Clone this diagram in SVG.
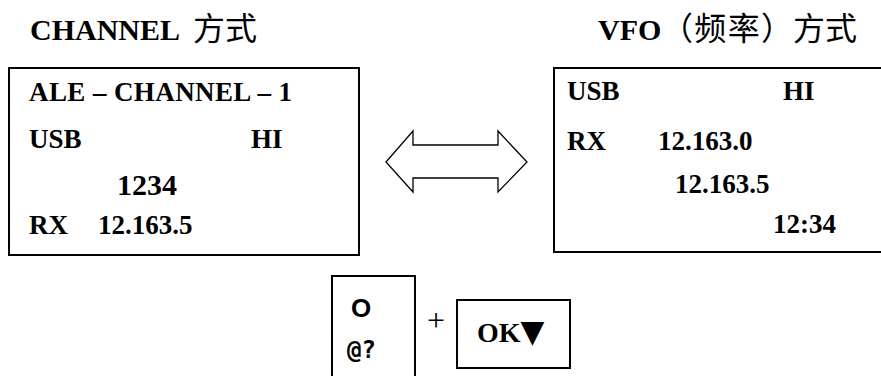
<svg xmlns="http://www.w3.org/2000/svg" width="881" height="376" viewBox="0 0 881 376">
<style>
.t{font-family:"Liberation Serif","Noto Sans CJK SC",serif;font-weight:bold;fill:#000}
.cjk{font-family:"Noto Sans CJK SC",sans-serif;font-weight:normal;font-size:32px}
.box{fill:#fff;stroke:#000;stroke-width:2}
.b{font-size:27px}
</style>
<rect width="881" height="376" fill="#fff"/>
<g id="title-channel"><text class="t" x="30" y="40" font-size="30">CHANNEL<tspan class="cjk" x="193" font-size="33">方式</tspan></text></g>
<g id="title-vfo"><text class="t" x="598" y="40" font-size="30">VFO<tspan class="cjk" x="661" textLength="132" lengthAdjust="spacing">（频率）</tspan><tspan class="cjk" x="793">方式</tspan></text></g>
<g id="channel-screen">
<rect class="box" x="9" y="68" width="350" height="187"/>
<text class="t b" x="29" y="101" textLength="263" lengthAdjust="spacing">ALE – CHANNEL – 1</text>
<text class="t b" x="29" y="148">USB</text>
<text class="t b" x="251" y="148">HI</text>
<text class="t" x="117" y="195" font-size="30">1234</text>
<text class="t b" x="29" y="234">RX</text>
<text class="t b" x="98" y="234">12.163.5</text>
</g>
<g id="connectors">
<polygon points="386,162 413,131 413,145 498,145 498,131 527,162 498,192 498,178 413,178 413,192" fill="#fff" stroke="#000" stroke-width="1.3"/>
</g>
<g id="vfo-screen">
<rect class="box" x="554" y="68" width="340" height="184"/>
<text class="t b" x="567" y="100">USB</text>
<text class="t b" x="783" y="100">HI</text>
<text class="t b" x="567" y="150">RX</text>
<text class="t b" x="658" y="150">12.163.0</text>
<text class="t b" x="675" y="193">12.163.5</text>
<text class="t b" x="773" y="233">12:34</text>
</g>
<g id="key-o">
<rect class="box" x="332" y="276" width="83" height="110"/>
<text x="351" y="317" font-family="Liberation Sans,sans-serif" font-weight="bold" font-size="26">O</text>
<text x="347" y="358" font-family="DejaVu Sans Mono,monospace" font-weight="bold" font-size="24">@?</text>
</g>
<g id="plus"><text x="427" y="331" font-family="Liberation Serif,serif" font-size="32">+</text></g>
<g id="key-ok">
<rect class="box" x="457" y="300" width="113" height="68"/>
<text class="t" x="477" y="342" font-size="28">OK<tspan font-family="DejaVu Sans,sans-serif" font-size="31">▼</tspan></text>
</g>
</svg>
